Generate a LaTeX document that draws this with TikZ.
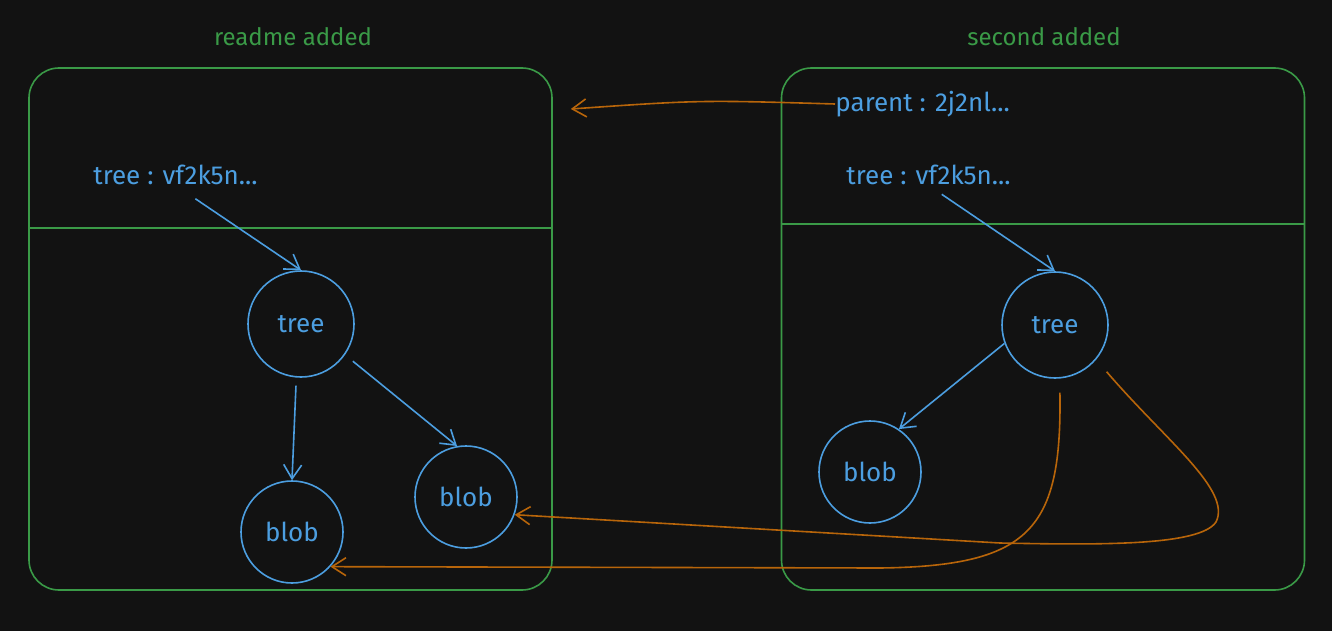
\documentclass[tikz,border=0pt]{standalone}
\usepackage{fontspec}
\setmainfont{Fira Sans}
\usetikzlibrary{arrows.meta}
\definecolor{canvas}{HTML}{121212}
\definecolor{sketchgreen}{HTML}{3A9A47}
\definecolor{sketchblue}{HTML}{4C9EE0}
\definecolor{sketchorange}{HTML}{B8650A}
\tikzset{
  commit/.style={draw=sketchgreen, line width=0.8pt, rounded corners=15pt,
    minimum width=261.5pt, minimum height=261pt},
  title/.style={text=sketchgreen, font=\fontsize{12}{14}\selectfont},
  field/.style={text=sketchblue, anchor=west, inner sep=0pt,
    font=\fontsize{13}{15}\selectfont},
  obj/.style={draw=sketchblue, circle, line width=0.8pt, inner sep=0pt,
    minimum size=51pt, text=sketchblue, font=\fontsize{13}{15}\selectfont},
  link/.style={sketchblue, line width=0.8pt,
    -{Straight Barb[length=7pt,width=9pt]}},
  ref/.style={sketchorange, line width=0.8pt,
    -{Straight Barb[length=7pt,width=9pt]}}
}
\begin{document}
\begin{tikzpicture}[x=0.5pt,y=-0.5pt]
  \fill[canvas] (0,0) rectangle (1332,631);
  % commits
  \node[title] (ltitle) at (293,37) {readme added};
  \node[title] (rtitle) at (1044,37) {second added};
  \node[commit] (lcommit) at (290.5,329) {};
  \node[commit] (rcommit) at (1043,329) {};
  \draw[sketchgreen, line width=0.8pt] (lcommit.west |- 0,228) -- (lcommit.east |- 0,228);
  \draw[sketchgreen, line width=0.8pt] (rcommit.west |- 0,224) -- (rcommit.east |- 0,224);
  % fields
  \node[field] (ltreeref) at (93,175) {tree : vf2k5n...};
  \node[field] (rparent) at (835,104) {parent : 2j2nl...};
  \node[field] (rtreeref) at (846,175) {tree : vf2k5n...};
  % objects
  \node[obj, minimum size=53pt] (ltree) at (301,324) {tree};
  \node[obj] (lblobA) at (292,532) {blob};
  \node[obj] (lblobB) at (466,497) {blob};
  \node[obj, minimum size=53pt] (rtree) at (1055,325) {tree};
  \node[obj] (rblob) at (870,472) {blob};
  % links inside commits
  \draw[link, shorten <=12pt] (ltreeref.south) -- (ltree.north);
  \draw[link, shorten <=4pt] (ltree.-95) -- (lblobA.north);
  \draw[link, shorten <=5pt] (ltree.-35) -- (lblobB.100);
  \draw[link, shorten <=8pt] (rtreeref.south) -- (rtree.north);
  \draw[link] (rtree.200) -- (rblob.56);
  % references to the previous commit
  \path (lcommit.east |- rparent.west) ++(18,5) coordinate (lcommitin);
  \draw[ref] (rparent.west) .. controls (700,100) .. (lcommitin);
  \draw[ref, shorten <=7pt] (rtree.-85) .. controls (1062,530) and (1030,566) .. (880,568)
    -- (lblobA.-42);
  \draw[ref, shorten <=8pt] (rtree.-40) .. controls (1165,440) and (1232,490) .. (1216,522)
    .. controls (1200,546) and (1100,545) .. (1000,543) -- (lblobB.-20);
\end{tikzpicture}
\end{document}
